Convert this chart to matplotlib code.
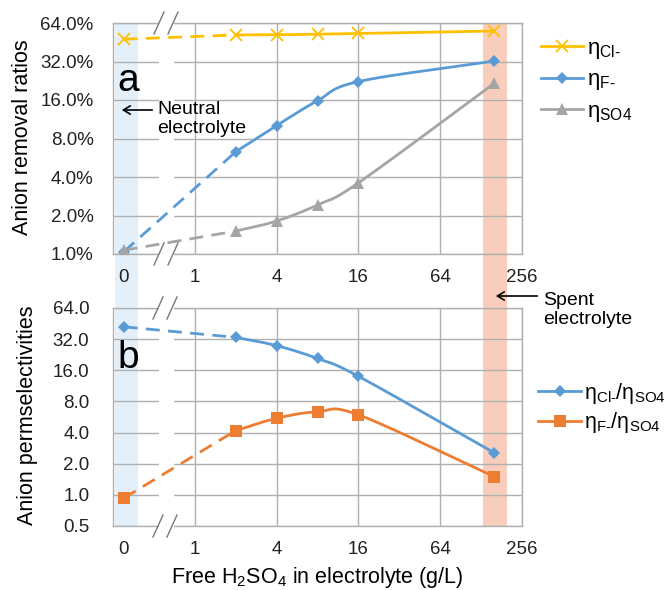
import numpy as np
import matplotlib
matplotlib.use('Agg')
import matplotlib.pyplot as plt
from matplotlib.patches import Rectangle, FancyArrowPatch
from matplotlib.lines import Line2D
from matplotlib.transforms import blended_transform_factory

plt.rcParams['font.family'] = ['Liberation Sans', 'DejaVu Sans']
plt.rcParams['mathtext.fontset'] = 'custom'
plt.rcParams['mathtext.rm'] = 'Liberation Sans'
plt.rcParams['mathtext.it'] = 'Liberation Sans'
plt.rcParams['mathtext.bf'] = 'Liberation Sans:bold'

# ---------------- data ----------------
h2so4 = [0, 2, 4, 8, 16, 160]                      # g/L
eta_cl = [47.8, 51.6, 51.8, 52.3, 53.0, 55.4]      # %
eta_f = [1.04, 6.3, 10.1, 15.8, 22.3, 32.3]        # %
eta_so4 = [1.07, 1.51, 1.81, 2.42, 3.6, 21.6]      # %
sel_cl_so4 = [42.1, 33.3, 27.7, 20.8, 14.0, 2.55]
sel_f_so4 = [0.93, 4.18, 5.5, 6.35, 5.94, 1.5]

x_ticks = [1, 4, 16, 64, 256]
x_tick_labels = ['1', '4', '16', '64', '256']
zero_label = '0'
y1_ticks = [1, 2, 4, 8, 16, 32, 64]
y1_tick_labels = ['1.0%', '2.0%', '4.0%', '8.0%', '16.0%', '32.0%', '64.0%']
y2_ticks = [0.5, 1, 2, 4, 8, 16, 32, 64]
y2_tick_labels = ['0.5', '1.0', '2.0', '4.0', '8.0', '16.0', '32.0', '64.0']

lab_cl = '$\\mathregular{η_{Cl\u2010}}$'
lab_f = '$\\mathregular{η_{F\u2010}}$'
lab_so4 = '$\\mathregular{η_{SO4}}$'
lab_cl_so4 = '$\\mathregular{η_{Cl\u2010}/η_{SO4}}$'
lab_f_so4 = '$\\mathregular{η_{F\u2010}/η_{SO4}}$'

# ---------------- layout ----------------
W, H = 670, 590
ZERO_POS = 0.3          # where "0 g/L" sits on the log axis
XLIM = (0.25, 256)
GAP = (0.545, 0.70)     # axis break region

c_cl = '#FFC000'
c_f = '#5B9BD5'
c_so4 = '#A5A5A5'
c_fso4 = '#ED7D31'
c_grid = '#B0B0B0'


def fx(px):
    return px / W


def fy(py):
    return 1 - py / H


fig = plt.figure(figsize=(W / 100, H / 100), dpi=100)
ax1 = fig.add_axes([fx(113), fy(254), fx(522) - fx(113), fy(23) - fy(254)])
ax2 = fig.add_axes([fx(113), fy(526), fx(522) - fx(113), fy(308) - fy(526)])


def catmull(xs, ys, n=40):
    P = np.column_stack([np.log2(xs), np.log2(ys)])
    P = np.vstack([2 * P[0] - P[1], P, 2 * P[-1] - P[-2]])
    out = []
    for i in range(1, len(P) - 2):
        p0, p1, p2, p3 = P[i - 1], P[i], P[i + 1], P[i + 2]
        t = np.linspace(0, 1, n)[:, None]
        seg = 0.5 * ((2 * p1) + (-p0 + p2) * t + (2 * p0 - 5 * p1 + 4 * p2 - p3) * t ** 2
                     + (-p0 + 3 * p1 - 3 * p2 + p3) * t ** 3)
        out.append(seg)
    out = np.vstack(out)
    return 2 ** out[:, 0], 2 ** out[:, 1]


xpos = [ZERO_POS if v == 0 else v for v in h2so4]
LW = 2.0


def draw_series(ax, ys, color, marker, ms, label):
    ax.plot(xpos[:2], ys[:2], color=color, lw=LW, ls=(0, (5, 3)), zorder=4,
            dash_capstyle='butt')
    sx, sy = catmull(xpos[1:], ys[1:])
    ax.plot(sx, sy, color=color, lw=LW, zorder=4)
    mew = 1.3 if marker == 'x' else 0
    ax.plot(xpos, ys, ls='none', marker=marker, ms=ms, color=color, mec=color,
            mew=mew, zorder=5)
    return Line2D([], [], color=color, lw=LW, marker=marker, ms=ms, mec=color, mew=mew,
                  label=label)


for ax, yt, ytl, ylim, pad in [(ax1, y1_ticks, y1_tick_labels, (1, 64), 14),
                               (ax2, y2_ticks, y2_tick_labels, (0.5, 64), 17)]:
    ax.set_facecolor('none')
    ax.set_xscale('log', base=2)
    ax.set_yscale('log', base=2)
    ax.set_xlim(*XLIM)
    ax.set_ylim(*ylim)
    ax.set_xticks(x_ticks)
    ax.set_xticklabels(x_tick_labels)
    ax.set_xticks([ZERO_POS], minor=True)
    ax.set_xticklabels([zero_label], minor=True)
    ax.set_yticks(yt)
    ax.set_yticklabels(ytl)
    ax.yaxis.set_minor_locator(matplotlib.ticker.NullLocator())
    ax.tick_params(axis='both', which='both', length=0, labelsize=13.5, colors='#222222')
    ax.tick_params(axis='y', pad=pad)
    ax.tick_params(axis='x', which='both', pad=11)
    ax.grid(True, which='major', color=c_grid, lw=1.0, zorder=0)
    ax.set_axisbelow(True)
    for s in ax.spines.values():
        s.set_color(c_grid)
        s.set_linewidth(1.0)
    # white gap for the axis break
    trans = blended_transform_factory(ax.transData, ax.transAxes)
    ax.add_patch(Rectangle((GAP[0], -0.02), GAP[1] - GAP[0], 1.04, transform=trans,
                           facecolor='white', edgecolor='none', zorder=2.6, clip_on=False))

# series
h1 = [draw_series(ax1, eta_cl, c_cl, 'x', 9, lab_cl),
      draw_series(ax1, eta_f, c_f, 'D', 6.5, lab_f),
      draw_series(ax1, eta_so4, c_so4, '^', 8, lab_so4)]
h2 = [draw_series(ax2, sel_cl_so4, c_f, 'D', 6, lab_cl_so4),
      draw_series(ax2, sel_f_so4, c_fso4, 's', 8.5, lab_f_so4)]

# break marks
for (x0, ys) in [(154, 23), (168, 23), (154, 254), (168, 254), (153, 308), (167, 308),
                 (153, 526), (167, 526)]:
    fig.add_artist(Line2D([fx(x0), fx(x0 + 10)], [fy(ys + 11), fy(ys - 11)],
                          color='#777777', lw=1.0, zorder=6))

# highlight bands spanning both panels
bt = blended_transform_factory(ax1.transData, fig.transFigure)
fig.add_artist(Rectangle((0.259, fy(526)), 0.381 - 0.259, fy(23) - fy(526), transform=bt,
                         facecolor='#E3F0FA', edgecolor='none', zorder=-1))
fig.add_artist(Rectangle((132, fy(526)), 198 - 132, fy(23) - fy(526), transform=bt,
                         facecolor='#F8CDBC', edgecolor='none', zorder=-1))

# panel letters
fig.text(fx(117), fy(81), 'a', fontsize=28, va='center', ha='left')
fig.text(fx(117), fy(358), 'b', fontsize=28, va='center', ha='left')

# annotations
fig.add_artist(FancyArrowPatch((fx(155), fy(110)), (fx(119), fy(110)),
                               transform=fig.transFigure,
                               arrowstyle='->,head_length=5,head_width=3',
                               color='black', lw=1.2))
fig.text(fx(157), fy(119), 'Neutral\nelectrolyte', fontsize=14, va='center', ha='left',
         linespacing=1.15)
fig.add_artist(FancyArrowPatch((fx(540), fy(296)), (fx(493), fy(296)),
                               transform=fig.transFigure,
                               arrowstyle='->,head_length=5,head_width=3',
                               color='black', lw=1.2))
fig.text(fx(543), fy(310), 'Spent\nelectrolyte', fontsize=14, va='center', ha='left',
         linespacing=1.15)

# axis labels
fig.text(fx(23), fy(137), 'Anion removal ratios', rotation=90, fontsize=15.5,
         va='center', ha='center')
fig.text(fx(28), fy(415), 'Anion permselectivities', rotation=90, fontsize=15.5,
         va='center', ha='center')
fig.text(fx(317), fy(577), r'Free H$_2$SO$_4$ in electrolyte (g/L)', fontsize=15.5,
         va='center', ha='center')

# legends
fig.legend(handles=h1, loc='upper left', bbox_to_anchor=(fx(541), fy(38)), frameon=False,
           fontsize=16, handlelength=1.9, handletextpad=0.15, labelspacing=0.38,
           borderaxespad=0, borderpad=0)
fig.legend(handles=h2, loc='upper left', bbox_to_anchor=(fx(538), fy(381)), frameon=False,
           fontsize=15.5, handlelength=2.0, handletextpad=0.15, labelspacing=0.2,
           borderaxespad=0, borderpad=0)

fig.savefig('out.png', dpi=100)
